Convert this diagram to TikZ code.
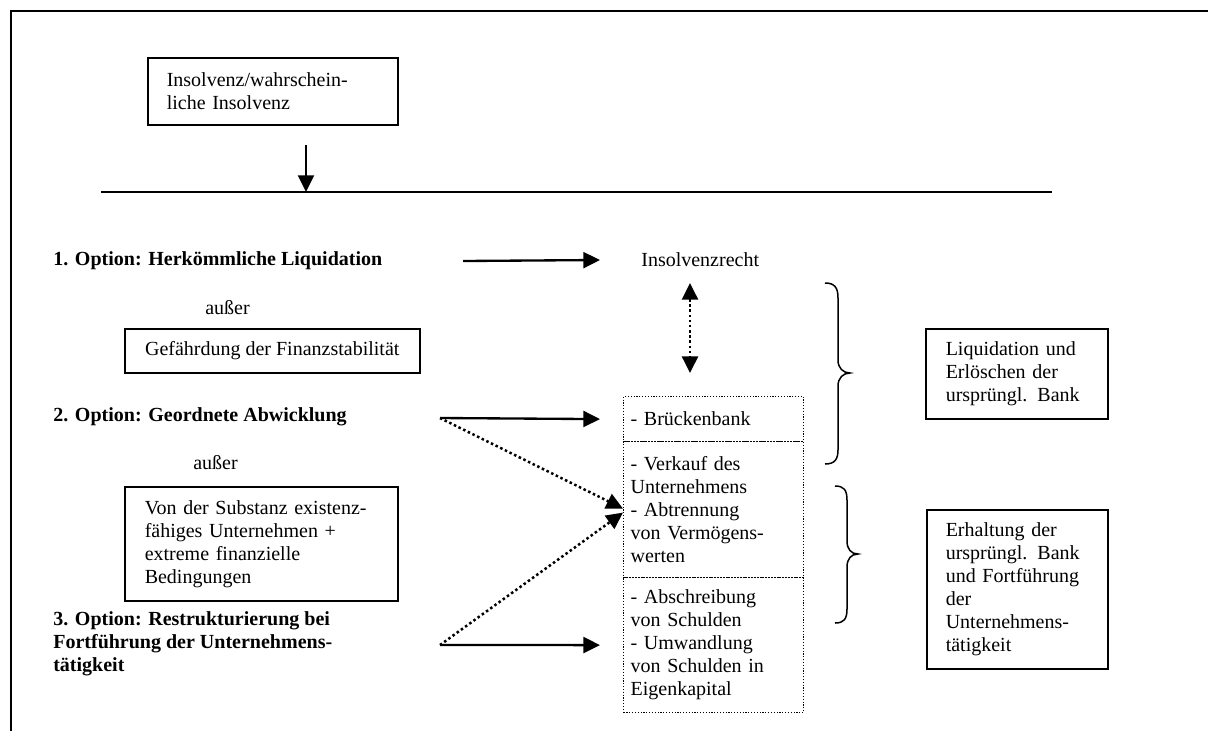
\documentclass[tikz,border=0pt]{standalone}
\usepackage{fontspec}
\setmainfont{Liberation Serif}
\usetikzlibrary{arrows.meta}

\tikzset{
    kasten/.style={draw, line width=0.9pt, anchor=north west, align=left, inner ysep=0pt},
    punktkasten/.style={draw, line width=0.7pt, dash pattern=on 0.7pt off 1pt,
        anchor=north west, align=left, inner xsep=4.2pt, inner ysep=0pt,
        text width=99.6pt},
    pfeil/.style={-{Triangle[length=10pt,width=9.6pt]}, line width=1.4pt},
    punktpfeil/.style={pfeil, line width=1.5pt, dash pattern=on 1.5pt off 1.6pt},
    titel/.style={anchor=west, inner sep=0pt, font=\bfseries, align=left},
    marke/.style={anchor=west, inner sep=0pt}
}

\begin{document}
\fontsize{12}{13.8}\selectfont
\begin{tikzpicture}[x=0.6pt, y=-0.6pt]

    \useasboundingbox (0,0) rectangle (1208,731);

    % Rahmen
    \draw[line width=1pt] (11,731) -- (11,11) -- (1208,11);

    % Ausgangslage
    \node[kasten, inner xsep=11.4pt, text width=127.2pt, minimum height=40.2pt]
        (insolvenz) at (147,57) {Insolvenz/wahrschein-\\liche Insolvenz};
    \coordinate (oben) at (306,145);
    \coordinate (treffer) at (306,192);
    \coordinate (linie1) at (101,192);
    \coordinate (linie2) at (1052,192);
    \draw[line width=0.9pt] (linie1) -- (linie2);
    \draw[pfeil] (oben) -- (treffer);

    % Optionen
    \node[titel] (opt1) at (53,261) {1. Option: Herkömmliche Liquidation};
    \node[marke] (ausser1) at (205,308) {außer};
    \node[kasten, minimum width=177pt, minimum height=26.4pt, align=center]
        (gefahr) at (124,328) {Gefährdung der Finanzstabilität};
    \node[titel] (opt2) at (53,417) {2. Option: Geordnete Abwicklung};
    \node[marke] (ausser2) at (193,463) {außer};
    \node[kasten, inner xsep=12pt, text width=139.8pt, minimum height=68.4pt]
        (substanz) at (124,486) {Von der Substanz existenz-\\fähiges Unternehmen +\\extreme finanzielle\\Bedingungen};
    \node[titel] (opt3) at (53,644) {3. Option: Restrukturierung bei\\Fortführung der Unternehmens-\\tätigkeit};

    % Instrumente
    \node[marke] (insr) at (641,260) {Insolvenzrecht};
    \node[punktkasten, minimum height=27pt] (bruecke) at (623,396) {- Brückenbank};
    \node[punktkasten, minimum height=81.6pt] (verkauf) at (623,441)
        {- Verkauf des\\Unternehmens\\- Abtrennung\\von Vermögens-\\werten};
    \node[punktkasten, minimum height=81pt] (umwandlung) at (623,577)
        {- Abschreibung\\von Schulden\\- Umwandlung\\von Schulden in\\Eigenkapital};

    % Pfeile
    \coordinate (a1) at (463,261);
    \coordinate (a2) at (440,418);
    \coordinate (a3) at (440,645);
    \coordinate (d1) at (690,283);
    \coordinate (d2) at (690,373);
    \draw[pfeil] (a1) -- ([xshift=-24.6pt]insr.west);
    \draw[pfeil] (a2) -- ([xshift=-13.8pt]bruecke.west);
    \draw[pfeil] (a3) -- ([xshift=-13.8pt]umwandlung.west);
    \draw[punktpfeil] (a2) -- ([yshift=0.6pt]verkauf.west);
    \draw[punktpfeil] (a3) -- ([yshift=-1.8pt]verkauf.west);
    \draw[punktpfeil, {Triangle[length=10pt,width=9.6pt]}-{Triangle[length=10pt,width=9.6pt]}] (d1) -- (d2);

    % Klammern
    \draw[line width=0.9pt] (825,283) .. controls (835,283) and (838,288) .. (838,298)
        -- (838,360) .. controls (838,368) and (843,373) .. (850,373)
        .. controls (843,373) and (838,378) .. (838,386)
        -- (838,450) .. controls (838,459) and (835,464) .. (825,464);
    \draw[line width=0.9pt] (835,486) .. controls (844,486) and (847,490) .. (847,500)
        -- (847,541) .. controls (847,549) and (851,554) .. (858,554)
        .. controls (851,554) and (847,559) .. (847,567)
        -- (847,609) .. controls (847,619) and (844,623) .. (835,623);

    % Ergebnisse
    \node[kasten, inner xsep=12pt, text width=85.2pt, minimum height=54pt]
        (liquidation) at (925,328) {Liquidation und\\Erlöschen der\\ursprüngl. Bank};
    \node[kasten, inner xsep=11.4pt, text width=85.8pt, minimum height=95.4pt]
        (erhaltung) at (926,509) {Erhaltung der\\ursprüngl. Bank\\und Fortführung\\der\\Unternehmens-\\tätigkeit};

\end{tikzpicture}
\end{document}
